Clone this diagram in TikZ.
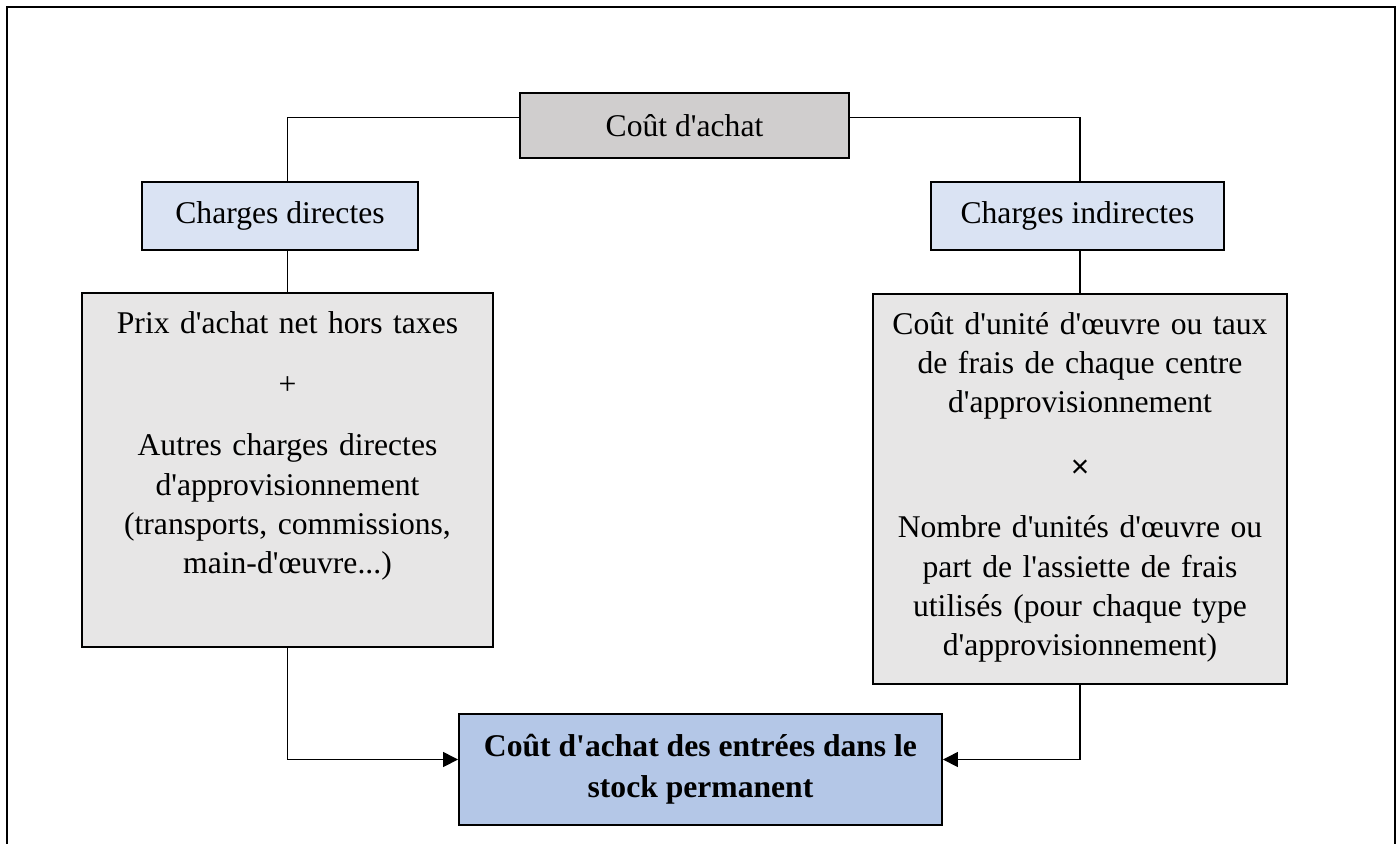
\documentclass[tikz,border=0pt]{standalone}
\usepackage{fontspec}
\setmainfont{Liberation Serif}[Ligatures=TeXOff]
\newfontfamily\opfont{Liberation Sans}
\usetikzlibrary{arrows.meta}
\definecolor{topfill}{HTML}{D0CECE}
\definecolor{chgfill}{HTML}{DAE3F3}
\definecolor{detfill}{HTML}{E7E6E6}
\definecolor{endfill}{HTML}{B4C7E7}
\tikzset{
  box/.style={draw=black, line width=0.04cm, align=center, inner sep=0pt,
              font=\fontsize{18}{22.4}\selectfont},
  head/.style={box, minimum width=#1, minimum height=1.36cm},
  detail/.style={box, anchor=north, text width=#1, inner xsep=0.16cm, text height=0.8cm},
  link/.style={line width=0.03cm},
  flow/.style={link, -{Triangle[length=0.3cm, width=0.3cm]}},
}

\begin{document}
\begin{tikzpicture}[x=0.02cm, y=-0.02cm]
  \useasboundingbox (0,0) rectangle (1400,843);
  \draw[line width=0.04cm] (7,850) -- (7,7) -- (1395,7) -- (1395,850);
  % Top
  \node[head=6.6cm, minimum height=1.3cm, fill=topfill] (cout) at (684.5,125.5) {Coût d'achat};
  % Row 1
  \node[head=5.52cm, fill=chgfill] (dir) at (280,216) {Charges directes};
  \node[head=5.86cm, fill=chgfill] (ind) at (1077.5,216) {Charges indirectes};
  % Row 2
  \node[detail=7.9cm, text depth=6.28cm, fill=detfill] (dirdet) at (287.5,292) {Prix d'achat net hors taxes\\[0.45cm]
    +\\[0.43cm]
    Autres charges directes\\ d'approvisionnement\\ (transports, commissions,\\ main-d'œuvre...)};
  \node[detail=7.96cm, text depth=7cm, fill=detfill] (inddet) at (1080,293) {Coût d'unité d'œuvre ou taux\\ de frais de chaque centre\\ d'approvisionnement\\[0.5cm]
    {\opfont ×}\\[0.43cm]
    Nombre d'unités d'œuvre ou\\ part de l'assiette de frais\\ utilisés (pour chaque type\\ d'approvisionnement)};
  % Bottom
  \node[box, minimum width=9.66cm, minimum height=2.22cm, fill=endfill,
        font=\fontsize{18}{23.2}\selectfont\bfseries] (stock) at (700.5,769.5) {Coût d'achat des entrées dans le\\ stock permanent};
  \draw[link] ([yshift=0.16cm]cout.west) -| (dir.north -| dirdet.north);
  \draw[link] ([yshift=0.16cm]cout.east) -| (ind.north -| inddet.north);
  \draw[link] (dir.south -| dirdet.north) -- (dirdet.north);
  \draw[link] (ind.south -| inddet.north) -- (inddet.north);
  \draw[flow] (dirdet.south) |- ([yshift=0.2cm]stock.west);
  \draw[flow] (inddet.south) |- ([yshift=0.2cm]stock.east);
\end{tikzpicture}
\end{document}
